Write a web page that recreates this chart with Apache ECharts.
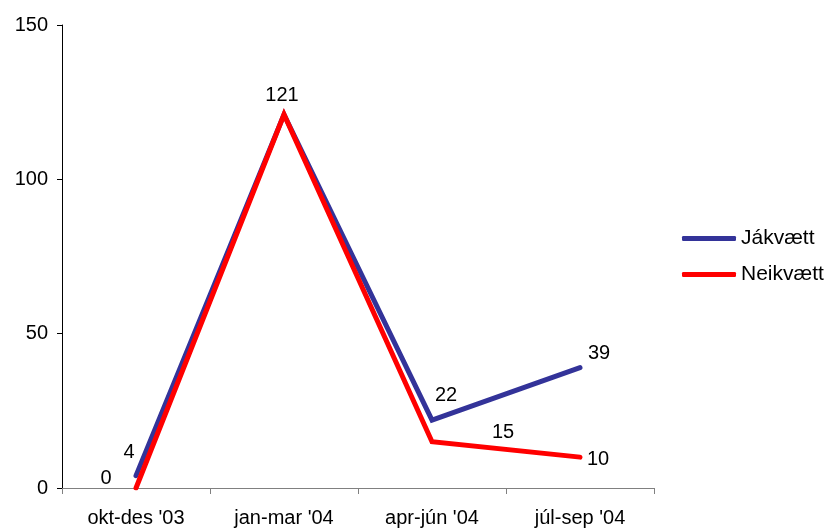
<!DOCTYPE html>
<html><head><meta charset="utf-8">
<script src="https://cdn.jsdelivr.net/npm/echarts@6/dist/echarts.min.js"></script>
<style>html,body{margin:0;padding:0;background:#fff}#c{width:829px;height:532px}</style>
</head><body><div id="c"></div>
<script>
const categories = ["okt-des '03", "jan-mar '04", "apr-jún '04", "júl-sep '04"];
const seriesNames = ["Jákvætt", "Neikvætt"];
const jakvaett = [4, 121, 22, 39];
const neikvaett = [0, 121, 15, 10];
const yTicks = [0, 50, 100, 150];

// label styling (offsets from point, visibility)
const offsA = [[-7, -23], [-2, -19], [14, -25], [19, -14]];
const showA = [true, true, true, true];
const offsB = [[-30, -10], [0, 0], [71, -9], [18, 2]];
const showB = [true, false, true, true];

const FONT = 'Liberation Sans, Arial, sans-serif';
function mk(vals, offs, shows) {
  return vals.map((v, i) => ({
    value: v,
    label: { show: shows[i], offset: offs[i] }
  }));
}
const chart = echarts.init(document.getElementById('c'), null, {renderer: 'canvas'});
chart.setOption({
  animation: false,
  backgroundColor: '#fff',
  grid: { left: 62, right: 175, top: 25, bottom: 44 },
  legend: {
    orient: 'vertical', left: 677, top: 223,
    itemWidth: 54, itemHeight: 5, itemGap: 15,
    icon: 'roundRect',
    textStyle: { fontFamily: FONT, fontSize: 21, color: '#000' },
    data: seriesNames
  },
  xAxis: {
    type: 'category', data: categories, boundaryGap: true,
    axisLine: { lineStyle: { color: '#808080', width: 1 } },
    axisTick: { show: true, length: 6, lineStyle: { color: '#808080' } },
    axisLabel: { fontFamily: FONT, fontSize: 20, color: '#000', margin: 20 },
    splitLine: { show: false }
  },
  yAxis: {
    type: 'value', min: yTicks[0], max: yTicks[yTicks.length - 1], interval: 50,
    axisLine: { show: true, lineStyle: { color: '#000', width: 1 } },
    axisTick: { show: true, length: 5, inside: false, lineStyle: { color: '#000' } },
    axisLabel: { fontFamily: FONT, fontSize: 20, color: '#000', margin: 14 },
    splitLine: { show: false }
  },
  series: [
    {
      name: seriesNames[0], type: 'line', data: mk(jakvaett, offsA, showA),
      color: '#333399',
      lineStyle: { width: 5, color: '#333399', cap: 'round', join: 'miter' },
      symbol: 'circle', symbolSize: 0.1, showSymbol: true,
      label: { position: 'inside', align: 'center', verticalAlign: 'middle',
               fontFamily: FONT, fontSize: 20, color: '#000' },
      z: 2
    },
    {
      name: seriesNames[1], type: 'line', data: mk(neikvaett, offsB, showB),
      color: '#FF0000',
      lineStyle: { width: 5, color: '#FF0000', cap: 'round', join: 'miter' },
      symbol: 'circle', symbolSize: 0.1, showSymbol: true,
      label: { position: 'inside', align: 'center', verticalAlign: 'middle',
               fontFamily: FONT, fontSize: 20, color: '#000' },
      z: 3
    }
  ]
});
</script></body></html>
